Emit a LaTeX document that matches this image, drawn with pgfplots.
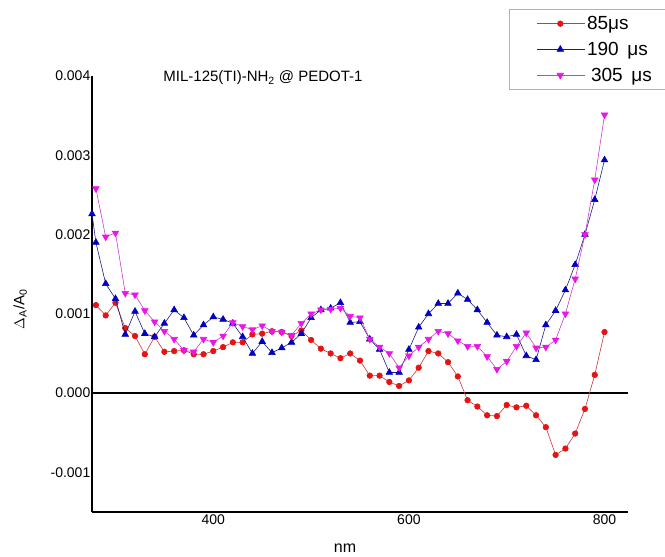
\documentclass[border=0pt]{standalone}
\usepackage{pgfplots}
\usepackage{pgfplotstable}
\pgfplotsset{compat=1.18}
\usepackage{fontspec}
\setmainfont{Liberation Sans}
\definecolor{cred}{RGB}{228,20,20}
\definecolor{credl}{RGB}{205,55,55}
\definecolor{cblue}{RGB}{0,0,190}
\definecolor{cbluel}{RGB}{30,30,130}
\definecolor{cmag}{RGB}{235,20,235}
\definecolor{cmagl}{RGB}{205,60,205}

\pgfplotstableread{
x y
280 0.00111
290 0.00098
300 0.00114
310 0.00082
320 0.00072
330 0.00049
340 0.00071
350 0.00052
360 0.00053
370 0.00054
380 0.00049
390 0.00049
400 0.00053
410 0.00058
420 0.00064
430 0.00064
440 0.00074
450 0.00075
460 0.00078
470 0.00077
480 0.00072
490 0.00079
500 0.00067
510 0.00056
520 0.00050
530 0.00044
540 0.00050
550 0.00041
560 0.00022
570 0.00022
580 0.00014
590 0.00009
600 0.00016
610 0.00032
620 0.00053
630 0.00050
640 0.00039
650 0.00021
660 -0.00009
670 -0.00017
680 -0.00028
690 -0.00029
700 -0.00015
710 -0.00018
720 -0.00016
730 -0.00028
740 -0.00043
750 -0.00078
760 -0.00070
770 -0.00051
780 -0.00020
790 0.00023
800 0.00077
}\tA

\pgfplotstableread{
x y
276 0.00226
280 0.00190
290 0.00138
300 0.00119
310 0.00074
320 0.00103
330 0.00075
340 0.00071
350 0.00088
360 0.00105
370 0.00095
380 0.00073
390 0.00086
400 0.00096
410 0.00093
420 0.00088
430 0.00071
440 0.00050
450 0.00065
460 0.00051
470 0.00057
480 0.00064
490 0.00075
500 0.00095
510 0.00105
520 0.00107
530 0.00114
540 0.00089
550 0.00090
560 0.00068
570 0.00055
580 0.00026
590 0.00026
600 0.00055
610 0.00083
620 0.00100
630 0.00113
640 0.00113
650 0.00126
660 0.00118
670 0.00105
680 0.00089
690 0.00073
700 0.00071
710 0.00074
720 0.00047
730 0.00042
740 0.00086
750 0.00104
760 0.00130
770 0.00162
780 0.00200
790 0.00244
800 0.00294
}\tB

\pgfplotstableread{
x y
280 0.00258
290 0.00197
300 0.00202
310 0.00126
320 0.00124
330 0.00104
340 0.00090
350 0.00078
360 0.00068
370 0.00054
380 0.00052
390 0.00068
400 0.00064
410 0.00072
420 0.00089
430 0.00084
440 0.00080
450 0.00085
460 0.00078
470 0.00077
480 0.00073
490 0.00088
500 0.00100
510 0.00105
520 0.00106
530 0.00107
540 0.00097
550 0.00095
560 0.00068
570 0.00058
580 0.00050
590 0.00032
600 0.00047
610 0.00058
620 0.00068
630 0.00078
640 0.00075
650 0.00066
660 0.00059
670 0.00059
680 0.00046
690 0.00030
700 0.00040
710 0.00059
720 0.00076
730 0.00057
740 0.00058
750 0.00067
760 0.00100
770 0.00144
780 0.00200
790 0.00269
800 0.00351
}\tC

\begin{document}
\begin{tikzpicture}
\path[use as bounding box] (-92bp,-45bp) rectangle (573bp,512bp);
\begin{axis}[
  at={(0,0)}, anchor=south west,
  scale only axis, width=536bp, height=436bp,
  xmin=276, xmax=824, ymin=-0.0015, ymax=0.004,
  clip mode=individual,
  axis x line=bottom, axis y line=left,
  axis line style={-, line width=1.3bp},
  major tick length=0pt,
  xtick={400,600,800},
  ytick={-0.001,0,0.001,0.002,0.003,0.004},
  yticklabels={-0.001,0.000,0.001,0.002,0.003,0.004},
  scaled y ticks=false,
  /pgf/number format/assume math mode=true,
  tick label style={font=\fontsize{14bp}{16bp}\selectfont},
  yticklabel style={anchor=east, inner sep=1.5bp},
  xticklabel style={anchor=north, inner sep=3bp},
  xlabel={nm},
  xlabel style={at={(rel axis cs:0.472,-0.082)}, anchor=center, font=\fontsize{16bp}{18bp}\selectfont},
  title={MIL-125(TI)-NH\textsubscript{2} @ PEDOT-1},
  title style={at={(rel axis cs:0.319,0.982)}, anchor=center, font=\fontsize{15bp}{17bp}\selectfont},
  legend style={at={(rel axis cs:0.778,1.1537)}, anchor=north west,
    draw=gray!60, line width=0.6bp, font=\fontsize{19bp}{21bp}\selectfont,
    inner xsep=4bp, inner ysep=5bp, row sep=7bp,
    nodes={inner xsep=1.5bp, inner ysep=2bp},
    /tikz/every odd column/.append style={column sep=0bp}},
  legend cell align=left,
  legend image code/.code={\path[draw=none,fill=none] (0bp,-1bp) rectangle (1bp,1bp);
    \draw[mark repeat=2,mark phase=2] plot coordinates {(24bp,0bp) (47bp,0bp) (72bp,0bp)};},
]
\draw[black, line width=1.2bp] (axis cs:276,0) -- (axis cs:824,0);
\node[rotate=90, anchor=center, font=\fontsize{15bp}{17bp}\selectfont] at (rel axis cs:-0.134,0.465) {$\Delta$\textsubscript{A}/A\textsubscript{0}};
\addplot[credl, line width=0.6bp, mark=*, mark size=2.8bp, mark options={fill=cred, draw=cred}] table[x=x,y=y] {\tA};
\addlegendentry{85μs}
\addplot[cbluel, line width=0.6bp, mark=triangle*, mark size=3.8bp, mark options={fill=cblue, draw=cblue}] table[x=x,y=y] {\tB};
\addlegendentry{190\hspace{0.45em}μs}
\addplot[cmagl, line width=0.6bp, mark=triangle*, mark size=3.8bp, mark options={fill=cmag, draw=cmag, rotate=180}] table[x=x,y=y] {\tC};
\addlegendentry{\makebox[90bp][l]{\hspace{4bp}305\hspace{0.45em}μs}}
\end{axis}
\end{tikzpicture}
\end{document}
